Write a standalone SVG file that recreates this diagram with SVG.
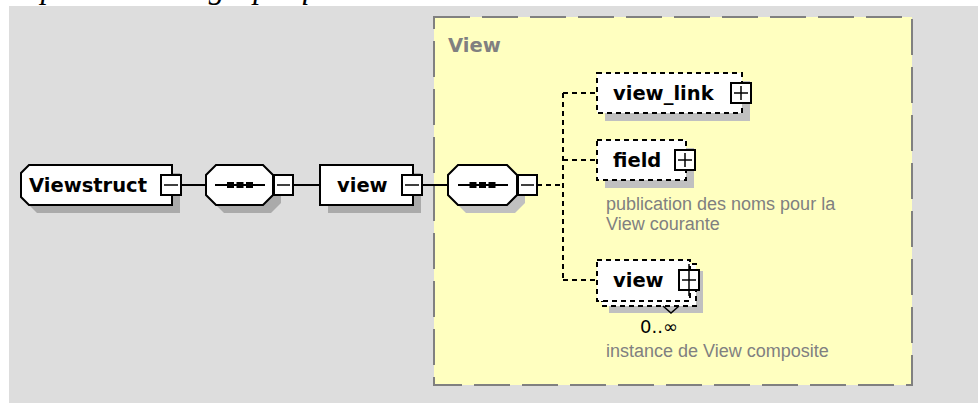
<svg xmlns="http://www.w3.org/2000/svg" width="978" height="403" viewBox="0 0 978 403">
<style>
.page{fill:#ffffff}
.bg{fill:#dddddd}
.group{fill:#ffffc0;stroke:#808080;stroke-width:2;stroke-dasharray:36 12}
.glbl{font-family:"DejaVu Sans",Verdana,sans-serif;font-weight:bold;font-size:19.5px;fill:#808080}
.sh-g{fill:#aaaaaa}
.sh-y{fill:#c0c0c0}
.el{fill:#ffffff;stroke:#000000;stroke-width:2}
.opt{fill:#ffffff;stroke:#000000;stroke-width:2;stroke-dasharray:5 4}
.pm{fill:#ffffff;stroke:#000000;stroke-width:2}
.pml{stroke:#000000;stroke-width:1.5;fill:none}
.lbl{font-family:"DejaVu Sans",Verdana,sans-serif;font-weight:bold;font-size:19.5px;fill:#000000}
.desc{font-family:"Liberation Sans",Arial,sans-serif;font-size:18px;fill:#808080}
.card{font-family:"DejaVu Sans",Verdana,sans-serif;font-size:18px;fill:#000000}
.conn{stroke:#000000;stroke-width:2;fill:none}
.connd{stroke:#000000;stroke-width:2;fill:none;stroke-dasharray:5 4}
.dot{fill:#000000}
.head{font-family:"Liberation Serif","Times New Roman",serif;font-style:italic;font-size:32px;fill:#000000}
</style>
<rect class="page" x="0" y="0" width="978" height="403"/>
<text class="head" x="7" y="-2">Représentation graphique</text>
<rect class="bg" x="9" y="6" width="969" height="397"/>

<g id="group-View">
  <rect class="group" x="434" y="17" width="478" height="368"/>
  <text class="glbl" x="448" y="52">View</text>
</g>

<g id="connectors">
  <line class="conn" x1="181" y1="185" x2="206" y2="185"/>
  <line class="conn" x1="293" y1="185" x2="320" y2="185"/>
  <line class="conn" x1="422" y1="185" x2="448" y2="185"/>
  <line class="connd" x1="537" y1="185" x2="563" y2="185"/>
  <line class="connd" x1="563" y1="93" x2="563" y2="280"/>
  <line class="connd" x1="563" y1="93" x2="597" y2="93"/>
  <line class="connd" x1="563" y1="160" x2="597" y2="160"/>
  <line class="connd" x1="563" y1="280" x2="597" y2="280"/>
</g>

<g id="node-Viewstruct">
  <path class="sh-g" d="M37 173 L180 173 L180 213 L37 213 L29 205 L29 181 Z"/>
  <path class="el" d="M29 165 L172 165 L172 205 L29 205 L21 197 L21 173 Z"/>
  <text class="lbl" x="29" y="191.5">Viewstruct</text>
  <rect class="pm" x="161" y="175" width="20" height="20"/>
  <line class="pml" x1="164" y1="185" x2="178" y2="185"/>
</g>

<g id="node-sequence1">
  <path class="sh-g" d="M224 173 L271 173 L281 183 L281 203 L271 213 L224 213 L214 203 L214 183 Z"/>
  <path class="el" d="M216 165 L263 165 L273 175 L273 195 L263 205 L216 205 L206 195 L206 175 Z"/>
  <line class="conn" x1="215" y1="185" x2="265" y2="185"/>
  <rect class="dot" x="227" y="182" width="7" height="6"/>
  <rect class="dot" x="236.5" y="182" width="7" height="6"/>
  <rect class="dot" x="246" y="182" width="7" height="6"/>
  <rect class="pm" x="274" y="175" width="19" height="20"/>
  <line class="pml" x1="277" y1="185" x2="290" y2="185"/>
</g>

<g id="node-view">
  <rect class="sh-g" x="328" y="173" width="93" height="40"/>
  <rect class="el" x="320" y="165" width="93" height="40"/>
  <text class="lbl" x="337" y="192">view</text>
  <rect class="pm" x="402" y="175" width="20" height="20"/>
  <line class="pml" x1="405" y1="185" x2="419" y2="185"/>
</g>

<g id="node-sequence2">
  <path class="sh-y" d="M466 173 L515 173 L525 183 L525 203 L515 213 L466 213 L456 203 L456 183 Z"/>
  <path class="el" d="M458 165 L507 165 L517 175 L517 195 L507 205 L458 205 L448 195 L448 175 Z"/>
  <line class="conn" x1="458" y1="185" x2="508" y2="185"/>
  <rect class="dot" x="469.5" y="182" width="7" height="6"/>
  <rect class="dot" x="479" y="182" width="7" height="6"/>
  <rect class="dot" x="488.5" y="182" width="7" height="6"/>
  <rect class="pm" x="518" y="175" width="19" height="20"/>
  <line class="pml" x1="521" y1="185" x2="534" y2="185"/>
</g>

<g id="node-view_link">
  <rect class="sh-y" x="605" y="81" width="145" height="40"/>
  <rect class="opt" x="597" y="73" width="145" height="40"/>
  <text class="lbl" x="613" y="99.5">view_link</text>
  <rect class="pm" x="731" y="83" width="20" height="20"/>
  <line class="pml" x1="734" y1="93" x2="748" y2="93"/>
  <line class="pml" x1="741" y1="86" x2="741" y2="100"/>
</g>

<g id="node-field">
  <rect class="sh-y" x="605" y="148" width="89" height="40"/>
  <rect class="opt" x="597" y="140" width="89" height="40"/>
  <text class="lbl" x="613" y="166.5">field</text>
  <rect class="pm" x="675" y="150" width="20" height="20"/>
  <line class="pml" x1="678" y1="160" x2="692" y2="160"/>
  <line class="pml" x1="685" y1="153" x2="685" y2="167"/>
  <text class="desc" x="606" y="210">publication des noms pour la</text>
  <text class="desc" x="606" y="230">View courante</text>
</g>

<g id="node-view-child">
  <rect class="sh-y" x="609" y="271" width="94" height="42"/>
  <rect class="opt" x="602" y="264" width="94" height="42"/>
  <rect class="opt" x="597" y="260" width="93" height="41"/>
  <polyline class="pml" points="663,306 671,313 679,306"/>
  <text class="lbl" x="613" y="287">view</text>
  <rect class="pm" x="679" y="270" width="20" height="20"/>
  <line class="pml" x1="682" y1="280" x2="696" y2="280"/>
  <line class="pml" x1="689" y1="264" x2="689" y2="296"/>
  <text class="card" x="640" y="333">0..∞</text>
  <text class="desc" x="606" y="357">instance de View composite</text>
</g>
</svg>
